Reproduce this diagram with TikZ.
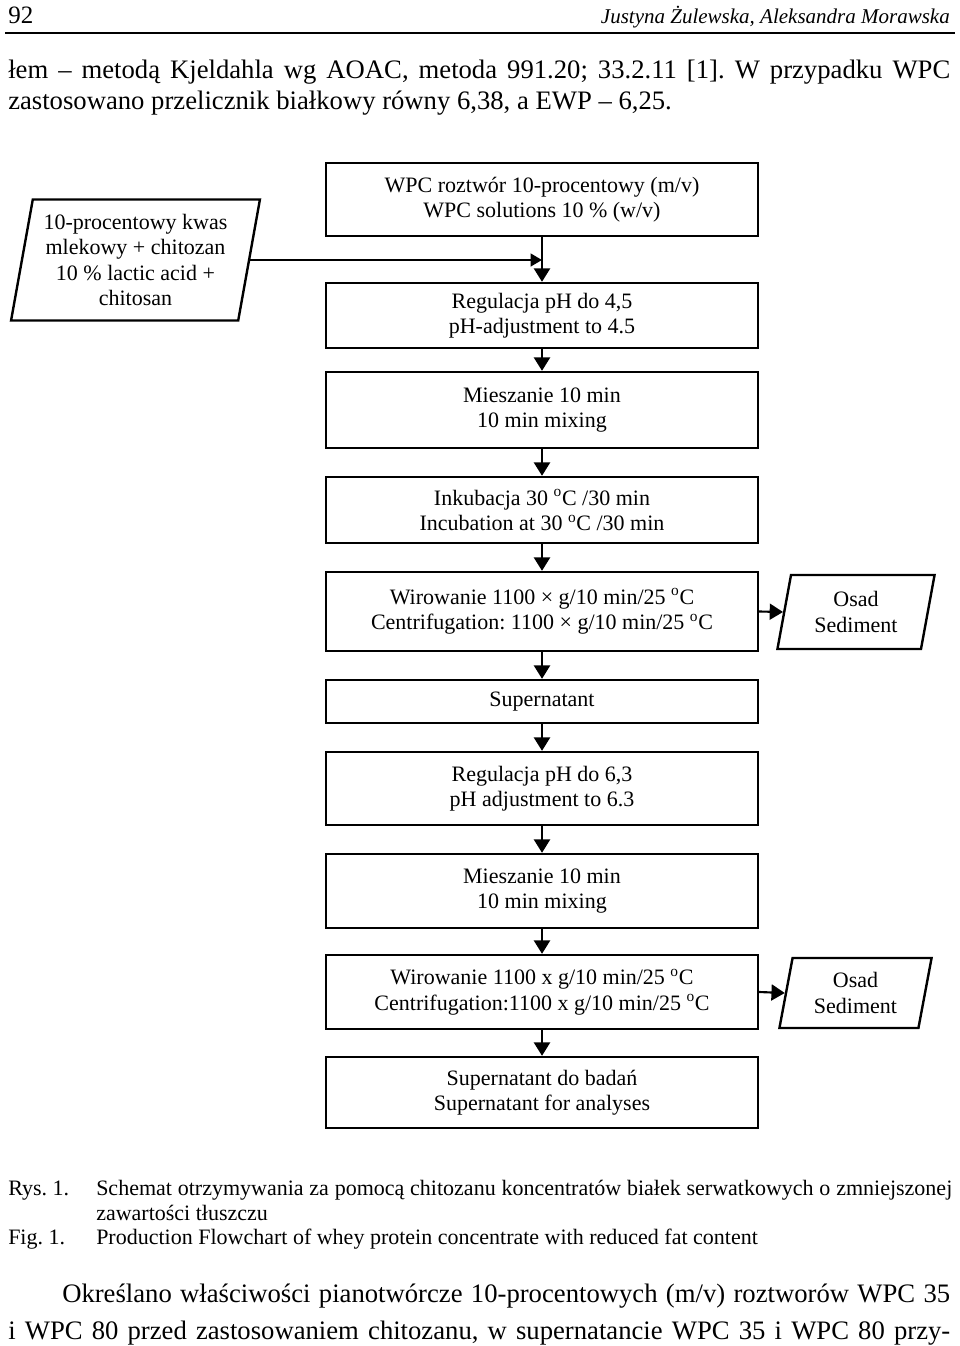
\documentclass[tikz,border=0pt]{standalone}
\usepackage{fontspec}
\setmainfont{Liberation Serif}
\usetikzlibrary{arrows.meta,shapes.geometric}
\frenchspacing
\begin{document}
\begin{tikzpicture}[x=0.75pt,y=-0.75pt,
  fc/.style={font=\fontsize{16.5}{19}\selectfont},
  box/.style={fc,draw,line width=1.8pt,minimum width=324pt,align=center,inner sep=0pt},
  para/.style={fc,draw,line width=1.8pt,trapezium,trapezium left angle=78,trapezium right angle=102,trapezium stretches=true,align=center,inner sep=0pt},
  arr/.style={line width=1.6pt,-{Triangle[width=12pt,length=10pt]}},
  arrs/.style={line width=1.6pt,-{Triangle[width=9.5pt,length=8.5pt]}},
  body/.style={anchor=base west,inner sep=0pt,font=\fontsize{20}{24}\selectfont},
  capt/.style={anchor=base west,inner sep=0pt,font=\fontsize{16.5}{19}\selectfont}]
\useasboundingbox (0,0) rectangle (960,1346);
% header
\node[anchor=base west,inner sep=0pt,font=\fontsize{18.75}{22}\selectfont] (pg) at (8,23) {92};
\node[anchor=base east,inner sep=0pt,font=\fontsize{15.75}{19}\selectfont\itshape] (auth) at (950,23) {Justyna Żulewska, Aleksandra Morawska};
\draw[line width=1.6pt] (5,33) -- (955,33);
% body text top
\node[body] (t1) at (8,78) {\makebox[706.5pt][s]{łem – metodą Kjeldahla wg AOAC, metoda 991.20; 33.2.11 [1]. W przypadku WPC}};
\node[body] (t2) at (8,109) {zastosowano przelicznik białkowy równy 6,38, a EWP – 6,25.};
% flowchart
\node[box,minimum height=54.75pt] (wpc) at (542,199.5) {WPC roztwór 10-procentowy (m/v)\\WPC solutions 10 \% (w/v)};
\node[box,minimum height=48.75pt] (reg1) at (542,315.5) {Regulacja pH do 4,5\\pH-adjustment to 4.5};
\node[box,minimum height=57pt] (mix1) at (542,410) {Mieszanie 10 min\\10 min mixing};
\node[box,minimum height=49.5pt] (ink) at (542,510) {Inkubacja 30 \textsuperscript{o}C /30 min\\Incubation at 30 \textsuperscript{o}C /30 min};
\node[box,minimum height=59.25pt] (wir1) at (542,611.5) {Wirowanie 1100 × g/10 min/25 \textsuperscript{o}C\\Centrifugation: 1100 × g/10 min/25 \textsuperscript{o}C};
\node[box,minimum height=32.25pt] (sup) at (542,701.5) {Supernatant};
\node[box,minimum height=54.75pt] (reg2) at (542,788.5) {Regulacja pH do 6,3\\pH adjustment to 6.3};
\node[box,minimum height=55.5pt] (mix2) at (542,891) {Mieszanie 10 min\\10 min mixing};
\node[box,minimum height=55.5pt] (wir2) at (542,992) {Wirowanie 1100 x g/10 min/25 \textsuperscript{o}C\\Centrifugation:1100 x g/10 min/25 \textsuperscript{o}C};
\node[box,minimum height=53.25pt] (fin) at (542,1092.5) {Supernatant do badań\\Supernatant for analyses};
\node[para,minimum width=186.75pt,minimum height=90.75pt] (acid) at (135.5,260) {10-procentowy kwas\\mlekowy + chitozan\\10 \% lactic acid +\\chitosan};
\node[para,minimum width=118.5pt,minimum height=55.5pt] (osad1) at (856,612) {Osad\\Sediment};
\node[para,minimum width=114.75pt,minimum height=52.5pt] (osad2) at (855.5,993) {Osad\\Sediment};
% connectors
\draw[arr] (wpc.south) -- (reg1.north);
\draw[arrs] (acid.east) -- (acid.east -| wpc.south);
\draw[arr] (reg1.south) -- (mix1.north);
\draw[arr] (mix1.south) -- (ink.north);
\draw[arr] (ink.south) -- (wir1.north);
\draw[arr] (wir1.south) -- (sup.north);
\draw[arr] (wir1.east) -- (osad1.west);
\draw[arr] (sup.south) -- (reg2.north);
\draw[arr] (reg2.south) -- (mix2.north);
\draw[arr] (mix2.south) -- (wir2.north);
\draw[arr] (wir2.south) -- (fin.north);
\draw[arr] (wir2.east) -- (osad2.west);
% caption
\node[capt] (rys) at (8,1195) {Rys. 1.};
\node[capt] (c1) at (96,1195) {\makebox[642pt][s]{Schemat otrzymywania za pomocą chitozanu koncentratów białek serwatkowych o zmniejszonej}};
\node[capt] (c2) at (96,1220) {zawartości tłuszczu};
\node[capt] (fig) at (8,1244) {Fig. 1.};
\node[capt] (c3) at (96,1244) {Production Flowchart of whey protein concentrate with reduced fat content};
% body text bottom
\node[body] (b1) at (62,1302) {\makebox[666pt][s]{Określano właściwości pianotwórcze 10-procentowych (m/v) roztworów WPC 35}};
\node[body] (b2) at (8,1339) {\makebox[706.5pt][s]{i WPC 80 przed zastosowaniem chitozanu, w supernatancie WPC 35 i WPC 80 przy-}};
\end{tikzpicture}
\end{document}
